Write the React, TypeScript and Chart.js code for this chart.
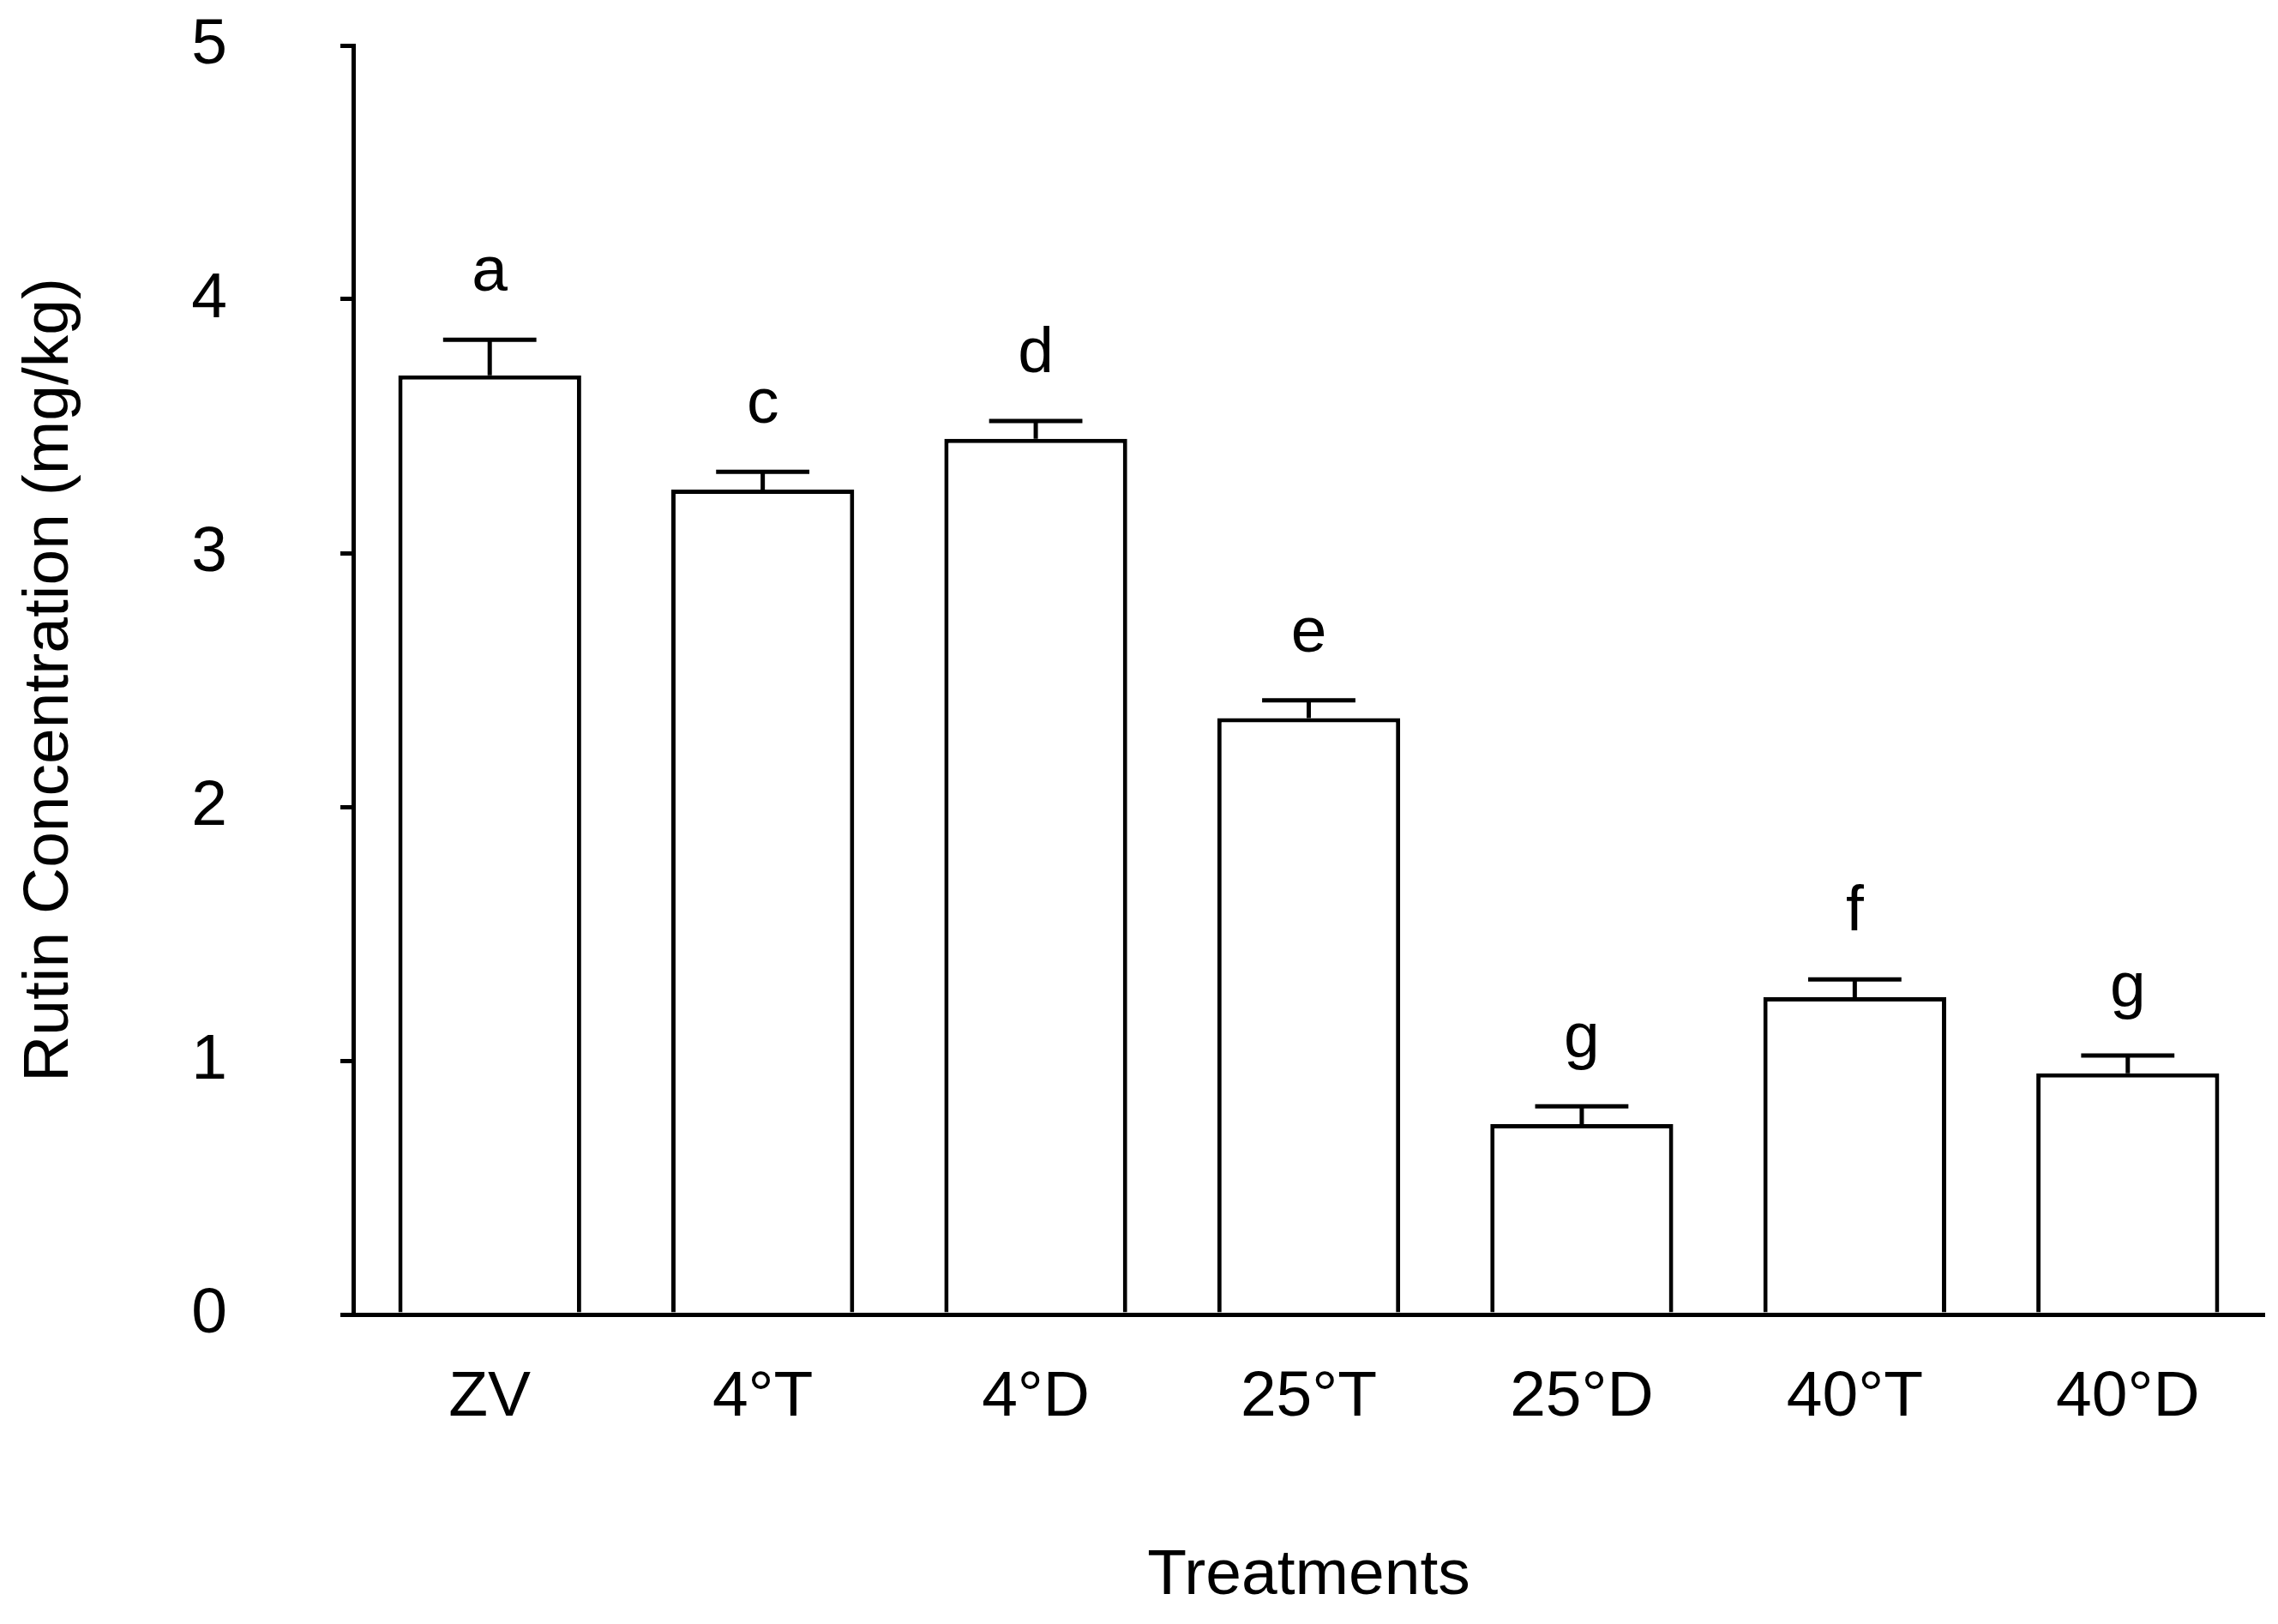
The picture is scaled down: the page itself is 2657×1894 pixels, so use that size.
import React, { useEffect, useRef } from "react";
import { Chart, registerables } from "chart.js";

Chart.register(...registerables);

const categories = ["ZV", "4°T", "4°D", "25°T", "25°D", "40°T", "40°D"];
const means = [3.7, 3.25, 3.45, 2.35, 0.75, 1.25, 0.95];
const errors = [0.14, 0.07, 0.07, 0.07, 0.07, 0.07, 0.07];
const letters = ["a", "c", "d", "e", "g", "f", "g"];
const yTicks = [0, 1, 2, 3, 4, 5];

const FONT = "'Liberation Sans', Arial, 'DejaVu Sans', sans-serif";
const LW = 5;

const errorBarPlugin = {
  id: "errorBars",
  afterDatasetsDraw(chart: any) {
    const { ctx, scales } = chart;
    const x = scales.x;
    const y = scales.y;
    const meta = chart.getDatasetMeta(0);
    ctx.save();
    ctx.strokeStyle = "#000";
    ctx.lineWidth = LW;
    ctx.lineCap = "butt";
    meta.data.forEach((bar: any, i: number) => {
      const cx = x.getPixelForValue(i);
      const top = y.getPixelForValue(means[i]);
      const errTop = y.getPixelForValue(means[i] + errors[i]);
      const capHalf = bar.width * 0.255;
      ctx.beginPath();
      ctx.moveTo(cx, top);
      ctx.lineTo(cx, errTop);
      ctx.moveTo(cx - capHalf, errTop);
      ctx.lineTo(cx + capHalf, errTop);
      ctx.stroke();
      ctx.fillStyle = "#000";
      ctx.font = `75px ${FONT}`;
      ctx.textAlign = "center";
      ctx.textBaseline = "alphabetic";
      ctx.fillText(letters[i], cx, errTop - 57);
    });
    ctx.restore();
  },
};

export default function App() {
  const ref = useRef<HTMLCanvasElement>(null);
  useEffect(() => {
    if (!ref.current) return;
    const chart = new Chart(ref.current, {
      type: "bar",
      data: {
        labels: categories,
        datasets: [
          {
            data: means,
            backgroundColor: "#ffffff",
            borderColor: "#000000",
            borderWidth: LW,
            categoryPercentage: 1,
            barPercentage: 0.67,
          },
        ],
      },
      options: {
        animation: false,
        responsive: false,
        devicePixelRatio: 1,
        layout: { padding: { top: 53, right: 16, bottom: 0, left: 0 } },
        plugins: {
          legend: { display: false },
          tooltip: { enabled: false },
        },
        scales: {
          x: {
            grid: { display: false, drawTicks: false },
            border: { display: true, color: "#000", width: LW },
            ticks: {
              color: "#000",
              font: { family: FONT, size: 75 },
              padding: 52,
              maxRotation: 0,
            },
            title: {
              display: true,
              text: "Treatments",
              color: "#000",
              font: { family: FONT, size: 75 },
              padding: { top: 0, bottom: 11 },
            },
            afterFit: (s: any) => {
              s.height = 361;
              s.paddingLeft = 0;
              s.paddingRight = 0;
            },
          },
          y: {
            min: 0,
            max: 5,
            afterBuildTicks: (s: any) => {
              s.ticks = yTicks.map((v) => ({ value: v }));
            },
            grid: {
              display: true,
              drawOnChartArea: false,
              drawTicks: true,
              tickLength: 15,
              lineWidth: LW,
              color: "#000",
            },
            border: { display: true, color: "#000", width: LW },
            ticks: {
              color: "#000",
              font: { family: FONT, size: 75 },
              padding: 132,
            },
            title: {
              display: true,
              text: "Rutin Concentration (mg/kg)",
              color: "#000",
              font: { family: FONT, size: 75 },
              padding: { top: 13, bottom: 0 },
            },
            afterFit: (s: any) => {
              s.width = 412;
              s.paddingTop = 45;
              s.paddingBottom = 45;
            },
          },
        },
      },
      plugins: [errorBarPlugin],
    });
    return () => chart.destroy();
  }, []);
  return (
    <div style={{ position: "absolute", left: 0, top: 0, width: 2657, height: 1894, background: "#fff" }}>
      <canvas ref={ref} width={2657} height={1894} />
    </div>
  );
}
